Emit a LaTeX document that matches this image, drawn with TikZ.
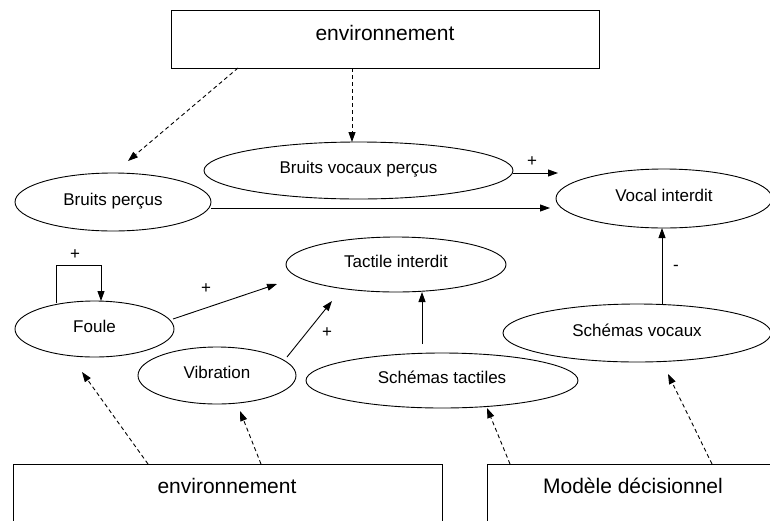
\documentclass[tikz,border=0pt]{standalone}
\usepackage{fontspec}
\setmainfont{Liberation Sans}
\usetikzlibrary{shapes.geometric,arrows.meta}
\begin{document}
\begin{tikzpicture}[x=1pt,y=-1pt, line width=0.9pt,
 ell/.style={draw, ellipse, inner sep=0pt, text height=12pt, text depth=6pt, font=\fontsize{17}{20}\selectfont},
 boxnode/.style={draw, rectangle, inner sep=0pt},
 bigtxt/.style={font=\fontsize{21}{25}\selectfont, inner sep=0pt},
 sign/.style={font=\fontsize{17}{20}\selectfont, inner sep=0pt},
 arr/.style={-{Triangle[length=10pt,width=7pt]}},
 darr/.style={arr, dash pattern=on 4pt off 3pt}]
\clip (0,0) rectangle (770,520);
\fill[white] (0,0) rectangle (770,520);
% boxes
\node[boxnode, minimum width=428pt, minimum height=58pt] (envtop) at (385,39) {};
\node[bigtxt] (envtoptxt) at (385,33) {environnement};
\node[boxnode, minimum width=429pt, minimum height=70pt] (envbot) at (227.5,499) {};
\node[bigtxt] (envbottxt) at (227,486) {environnement};
\node[boxnode, minimum width=300pt, minimum height=70pt] (modele) at (637,499) {};
\node[bigtxt] (modeletxt) at (633,486) {Modèle décisionnel};
% ellipses
\node[ell, minimum width=196pt, minimum height=58pt] (bp) at (113,202) {Bruits perçus};
\node[ell, minimum width=309pt, minimum height=57pt] (bvp) at (358.5,170.5) {Bruits vocaux perçus};
\node[ell, minimum width=216pt, minimum height=59pt] (vi) at (664,198.5) {Vocal interdit};
\node[ell, minimum width=220pt, minimum height=55pt] (ti) at (396,264.5) {Tactile interdit};
\node[ell, minimum width=159pt, minimum height=56pt] (foule) at (94.5,329) {Foule};
\node[ell, minimum width=158pt, minimum height=57pt] (vib) at (217,375.5) {Vibration};
\node[ell, minimum width=272pt, minimum height=55pt] (st) at (442,380.5) {Schémas tactiles};
\node[ell, minimum width=268pt, minimum height=58pt] (sv) at (637,333) {Schémas vocaux};
% connector end points
\coordinate (a1s) at (238,68);  \coordinate (a1e) at (128,161);
\coordinate (a2s) at (352,68);  \coordinate (a2e) at (352,142);
\coordinate (a3s) at (513,173); \coordinate (a3e) at (558,173);
\coordinate (a4s) at (211,208); \coordinate (a4e) at (550,208);
\coordinate (a5s) at (662,304); \coordinate (a5e) at (662,228);
\coordinate (l1) at (56,303);   \coordinate (l2) at (56,265);
\coordinate (l3) at (101,265);  \coordinate (l4) at (101,301);
\coordinate (a6s) at (173,319); \coordinate (a6e) at (277,284);
\coordinate (a7s) at (287,357); \coordinate (a7e) at (332,301);
\coordinate (a8s) at (422,344); \coordinate (a8e) at (422,292);
\coordinate (d1s) at (148,464); \coordinate (d1e) at (82,372);
\coordinate (d2s) at (261,464); \coordinate (d2e) at (240,411);
\coordinate (d3s) at (510,464); \coordinate (d3e) at (487,408);
\coordinate (d4s) at (712,464); \coordinate (d4e) at (668,374);
% connectors
\draw[darr] (a1s) -- (a1e);
\draw[darr] (a2s) -- (a2e);
\draw[arr] (a3s) -- (a3e);
\draw[arr] (a4s) -- (a4e);
\draw[arr] (a5s) -- (a5e);
\draw[arr] (l1) -- (l2) -- (l3) -- (l4);
\draw[arr] (a6s) -- (a6e);
\draw[arr] (a7s) -- (a7e);
\draw[arr] (a8s) -- (a8e);
\draw[darr] (d1s) -- (d1e);
\draw[darr] (d2s) -- (d2e);
\draw[darr] (d3s) -- (d3e);
\draw[darr] (d4s) -- (d4e);
% signs
\node[sign] (s1) at (532,162) {+};
\node[sign] (s2) at (75,255) {+};
\node[sign] (s3) at (206,289) {+};
\node[sign] (s4) at (327,333) {+};
\node[sign] (s5) at (676,268) {-};
\end{tikzpicture}
\end{document}
